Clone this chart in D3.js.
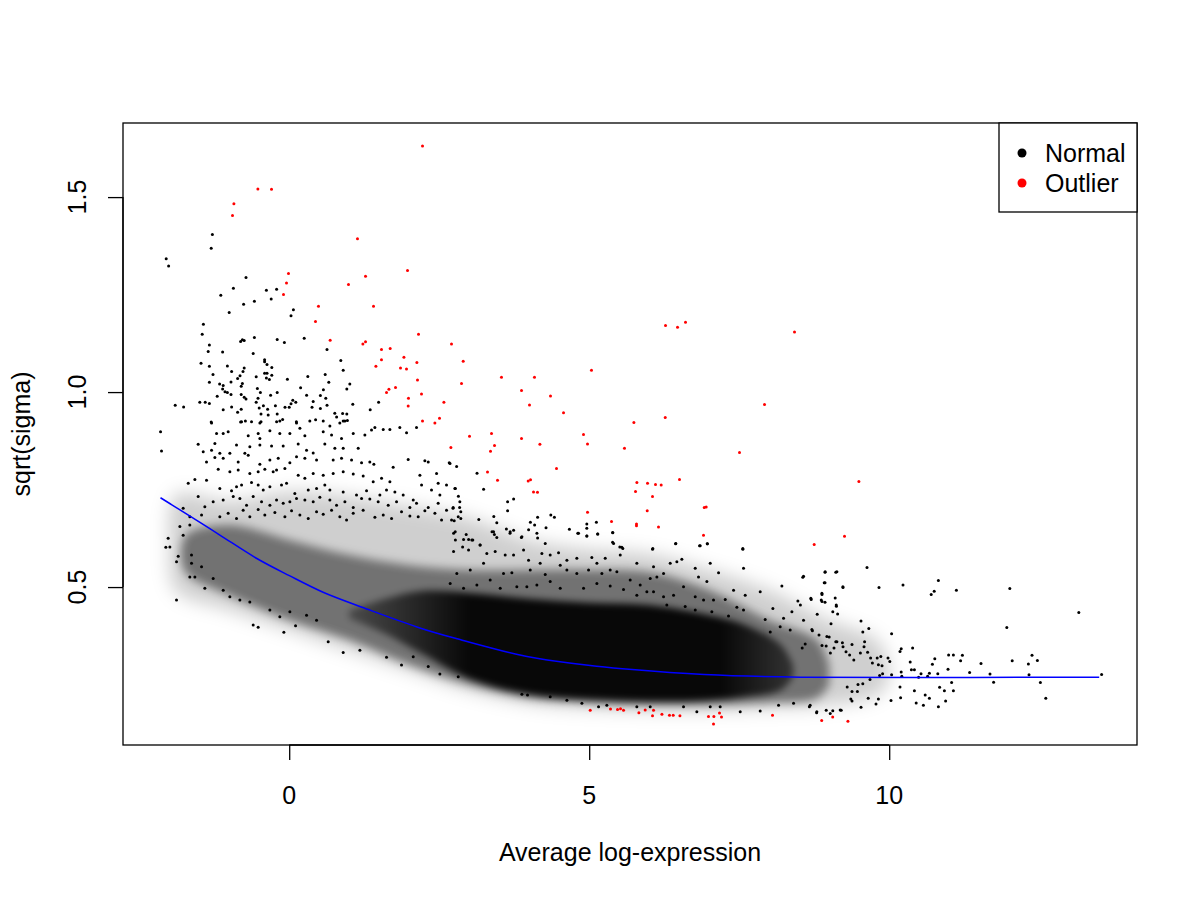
<!DOCTYPE html>
<html><head><meta charset="utf-8">
<script src="https://cdn.jsdelivr.net/npm/d3@7"></script>
<style>
body{margin:0;background:#fff}
svg{display:block}
text{font-family:"Liberation Sans",Arial,Helvetica,sans-serif;fill:#000}
</style>
</head><body>
<svg id="chart" width="1200" height="900"></svg>
<script>
// ---------- data ----------
const xTicks = [0, 5, 10];
const yTicks = [0.5, 1.0, 1.5];
const legendLabels = ["Normal", "Outlier"];
const legendColors = ["#000000", "#ff0000"];

const trendX = [-2.145,-1.1,-0.545,0,0.567,1.12,2.233,2.79,3.9,4.455,5.18,5.567,6.85,8.52,10.18,13.5];
const trendY = [0.729,0.629,0.571,0.53,0.484,0.454,0.390,0.368,0.321,0.309,0.296,0.290,0.274,0.268,0.268,0.269];

// density envelopes of the crowded cloud: light, medium, solid
const lightX    = [-2.0,-1.9,-1.0,0,1,2,3,4,5,6,7,8,9,9.8,10.0];
const lightHigh = [0.62,0.736,0.720,0.745,0.733,0.707,0.677,0.621,0.597,0.585,0.544,0.492,0.415,0.364,0.30];
const lightLow  = [0.58,0.492,0.441,0.390,0.338,0.287,0.236,0.203,0.190,0.185,0.185,0.190,0.197,0.223,0.26];
const midX      = [-1.8,-1.7,-1.0,0,1,2,3,4,5,6,7,8,8.8,9.0];
const midHigh   = [0.60,0.636,0.659,0.621,0.582,0.556,0.544,0.544,0.544,0.538,0.492,0.415,0.364,0.30];
const midLow    = [0.57,0.533,0.479,0.415,0.364,0.300,0.249,0.215,0.203,0.197,0.197,0.203,0.215,0.25];
const coreX     = [1.0,1.6,2.2,3,4,5,6,7,7.6,8.2,8.4];
const coreHigh  = [0.44,0.47,0.49,0.485,0.47,0.46,0.454,0.428,0.403,0.351,0.30];
const coreLow   = [0.42,0.38,0.33,0.265,0.225,0.212,0.207,0.21,0.218,0.236,0.27];
const coreShadeX = [1.0, 3.0, 7.2, 8.4];
const coreShade  = [0.35, 0.93, 0.93, 0.55];

const normalPoints = [
[-1.28,1.404],[-1.30,1.369],[-2.05,1.342],[-2.01,1.323],[-0.72,1.294],[-0.93,1.266],[-0.38,1.261],[-0.21,1.264],[-1.14,1.248],[-0.30,1.239],[-0.76,1.225],[-0.58,1.233],[0.07,1.211],[0.03,1.196],[-1.00,1.204],[-1.43,1.174],[-1.45,1.148],[-0.78,1.134],[-0.81,1.130],[-0.75,1.132],[-0.58,1.140],[-0.20,1.135],[-0.08,1.127],[0.25,1.138],[-1.33,1.121],[-1.35,1.104],[-1.11,1.103],[-0.60,1.099],[-0.41,1.083],[-0.41,1.078],[0.63,1.109],[0.86,1.081],[0.90,1.056],[-1.47,1.074],[-1.33,1.066],[-1.03,1.067],[-0.75,1.062],[-0.77,1.053],[-0.37,1.071],[-0.29,1.063],[-0.96,1.053],[-1.27,1.045],[-0.82,1.042],[-0.86,1.035],[-0.55,1.039],[-0.41,1.048],[-0.37,1.048],[-0.29,1.043],[-0.38,1.036],[-0.33,1.032],[-0.03,1.033],[0.31,1.040],[0.60,1.045],[-1.33,1.025],[-0.97,1.026],[-1.16,1.021],[-1.10,1.017],[-1.11,1.008],[-0.78,1.022],[-0.80,1.015],[0.66,1.025],[1.01,1.021],[0.96,1.008],[0.19,1.011],[0.57,1.006],[-0.53,1.009],[-1.07,1.001],[-1.03,0.999],[-0.97,0.994],[-1.20,0.989],[-0.80,0.994],[-0.75,0.987],[-0.72,0.982],[-0.48,0.999],[-0.31,0.992],[-0.20,0.999],[0.29,0.992],[0.52,0.991],[0.61,0.984],[-0.55,0.974],[-0.52,0.984],[0.06,0.979],[0.11,0.974],[0.03,0.970],[0.40,0.976],[1.06,0.969],[1.49,0.974],[-1.90,0.966],[-1.76,0.962],[-1.49,0.974],[-1.40,0.974],[-1.33,0.971],[-1.10,0.955],[-0.96,0.962],[-0.80,0.956],[-0.50,0.959],[-0.43,0.965],[-0.36,0.956],[-0.23,0.965],[-0.07,0.961],[0.00,0.961],[0.38,0.961],[0.52,0.958],[0.63,0.966],[1.35,0.955],[-0.86,0.948],[-0.47,0.944],[-0.35,0.941],[-0.20,0.944],[0.76,0.946],[0.79,0.936],[0.89,0.945],[0.96,0.944],[-0.11,0.930],[0.12,0.924],[0.44,0.929],[0.90,0.926],[0.97,0.927],[-1.30,0.923],[-0.81,0.923],[-0.73,0.926],[-0.47,0.924],[-0.21,0.924],
[-1.294,0.921],[-0.794,0.924],[-0.628,0.924],[-0.489,0.921],[-0.156,0.926],[0.122,0.921],[0.344,0.926],[0.567,0.926],[0.678,0.913],[0.844,0.921],[0.928,0.926],[1.428,0.909],[1.567,0.904],[1.678,0.904],[1.844,0.909],[1.956,0.896],[2.122,0.909],[-2.144,0.898],[-2.128,0.849],[-1.211,0.894],[-1.1,0.894],[-1.017,0.898],[-0.683,0.888],[-0.517,0.894],[-0.489,0.881],[-0.322,0.901],[-0.156,0.894],[0.011,0.894],[0.178,0.907],[0.261,0.888],[0.567,0.898],[0.706,0.890],[0.872,0.881],[1.067,0.894],[1.261,0.890],[1.372,0.903],
[-1.517,0.866],[-1.433,0.847],[-1.239,0.868],[-1.294,0.851],[-1.156,0.843],[-0.878,0.864],[-0.739,0.843],[-0.656,0.860],[-0.489,0.864],[-0.294,0.862],[-0.1,0.862],[0.15,0.867],[0.289,0.851],[0.4,0.844],[0.594,0.867],[0.761,0.856],[0.9,0.856],[1.15,0.856],
[-1.378,0.821],[-1.239,0.832],[-1.1,0.830],[-0.989,0.843],[-0.85,0.821],[-0.683,0.838],[-0.489,0.815],[-0.322,0.826],[-0.183,0.830],[0.011,0.819],[0.122,0.834],[0.261,0.830],[0.456,0.826],[0.733,0.826],[0.872,0.830],[1.039,0.826],[1.206,0.819],[1.344,0.821],[1.411,0.815],[1.733,0.807],[1.983,0.827],[2.261,0.824],[2.317,0.821],[2.667,0.819],
[-1.683,0.766],[-1.572,0.776],[-1.183,0.802],[-0.989,0.796],[-0.85,0.8],[-0.656,0.791],[-0.517,0.796],[-0.406,0.802],[-0.267,0.796],[-0.211,0.8],[-0.072,0.804],[0.15,0.787],[0.261,0.779],[0.4,0.791],[0.567,0.787],[0.733,0.791],[0.9,0.796],[1.067,0.790],[1.233,0.785],[1.4,0.770],[1.539,0.779],[1.678,0.770],[2.178,0.787],[2.456,0.791],[2.483,0.766],[2.622,0.762],[2.761,0.753],
[-1.378,0.774],[-1.156,0.753],[-0.961,0.747],[-0.878,0.757],[-0.794,0.762],[-0.628,0.768],[-0.517,0.762],[-0.433,0.749],[-0.322,0.757],[-0.128,0.762],[-0.044,0.766],[0.094,0.740],[0.317,0.749],[0.456,0.753],[0.594,0.762],[0.678,0.749],[0.9,0.744],[1.122,0.736],[1.289,0.747],[1.511,0.736],[1.622,0.749],[1.761,0.744],[1.9,0.736],[2.067,0.723],[2.206,0.762],[2.372,0.749],[2.511,0.736],
[-1.517,0.732],[-1.406,0.706],[-1.267,0.719],[-1.1,0.723],[-0.933,0.732],[-0.822,0.727],[-0.711,0.710],[-0.6,0.732],[-0.461,0.719],[-0.322,0.710],[-0.211,0.723],[-0.1,0.715],[0.011,0.719],[0.122,0.727],[0.261,0.723],[0.4,0.719],[0.511,0.730],[0.678,0.723],[0.789,0.710],[0.928,0.719],[1.067,0.704],[1.206,0.727],[1.344,0.726],[1.483,0.719],[1.65,0.710],[1.789,0.719],[2.011,0.704],[2.122,0.715],[2.317,0.704],[2.483,0.715],[2.622,0.697],[2.733,0.704],[2.844,0.719],
[-1.767,0.702],[-1.656,0.680],[-1.461,0.685],[-1.156,0.680],[-1.017,0.689],[-0.878,0.676],[-0.767,0.697],[-0.656,0.680],[-0.517,0.699],[-0.406,0.685],[-0.239,0.691],[-0.072,0.680],[0.039,0.696],[0.178,0.685],[0.317,0.676],[0.456,0.693],[0.567,0.687],[0.706,0.697],[0.844,0.680],[0.956,0.672],[1.067,0.689],[1.233,0.697],[1.428,0.679],[1.567,0.685],[1.706,0.676],[1.872,0.693],[2.011,0.682],[2.15,0.680],[2.261,0.696],[2.428,0.689],[2.539,0.672],[2.706,0.672],[2.817,0.680],
[-1.878,0.467],[-1.656,0.526],[-1.572,0.526],[-1.406,0.497],[-0.6,0.403],[-0.517,0.397],[-0.089,0.384],[0.106,0.401],[0.289,0.428],[0.456,0.415],[0.65,0.360],[0.9,0.332],[1.178,0.338],[1.622,0.320],[1.872,0.300],[2.067,0.321],[2.317,0.296],[2.511,0.277],[2.817,0.270],[-0.322,0.441],[-0.156,0.424],[0.011,0.437],[-0.989,0.475],[-0.822,0.467],[-0.656,0.462],[-1.878,0.565],[-2.017,0.625],[-2.056,0.602],[-1.85,0.579],[-1.628,0.582],[-1.461,0.552],[-1.267,0.522],[-1.1,0.492],[-1.822,0.655],[-1.656,0.659],[-1.767,0.633],[-1.989,0.603],[-1.628,0.561],
[2.68,0.817],[2.79,0.809],[3.13,0.792],[3.24,0.751],[2.77,0.753],[2.82,0.733],[2.73,0.702],[2.84,0.704],[2.86,0.693],[2.86,0.676],[2.75,0.670],[3.64,0.719],[3.74,0.726],[3.64,0.696],[3.41,0.681],[3.46,0.665],[3.16,0.673],[4.14,0.679],[4.36,0.685],[4.42,0.679],[4.02,0.666],[4.09,0.659],[4.28,0.652],[3.62,0.649],[3.74,0.646],[3.68,0.638],[3.87,0.627],[3.99,0.647],[3.38,0.642],[3.42,0.635],[3.46,0.627],[2.74,0.638],[2.95,0.635],[2.99,0.622],[3.06,0.621],[2.77,0.621],[3.18,0.608],[2.89,0.603],[4.14,0.626],[4.67,0.648],[4.81,0.638],[4.96,0.662],[4.96,0.651],[4.96,0.631],[5.12,0.666],[5.14,0.636],[5.39,0.640],[5.39,0.615],[5.51,0.603],[5.56,0.599],[6.06,0.599],[6.44,0.611],[6.85,0.606],[6.97,0.611],[7.56,0.599],
[2.767,0.642],[2.906,0.622],[3.044,0.621],[3.406,0.642],[3.683,0.642],[3.878,0.629],[4.128,0.638],[4.267,0.612],[4.822,0.638],[4.961,0.631],[5.144,0.636],[5.394,0.639],[5.406,0.612],[5.544,0.602],[6.056,0.597],[6.444,0.612],[6.839,0.606],[6.967,0.611],[7.561,0.597],
[2.739,0.591],[2.989,0.595],[3.183,0.608],[3.294,0.586],[3.433,0.591],[3.6,0.582],[3.739,0.582],[3.906,0.595],[3.989,0.569],[4.211,0.586],[4.35,0.582],[4.489,0.588],[4.628,0.569],[4.794,0.574],[5.044,0.576],[5.128,0.561],[5.267,0.574],[5.517,0.582],[5.794,0.561],[6.072,0.552],[6.239,0.535],[6.35,0.561],[6.461,0.565],[6.544,0.571],[6.767,0.548],[7.017,0.561],[7.156,0.537],[7.572,0.548],[8.933,0.539],[9.128,0.539],[8.572,0.528],
[2.794,0.535],[3.017,0.544],[3.239,0.561],[3.572,0.535],[3.711,0.537],[4.017,0.544],[4.183,0.561],[4.267,0.532],[4.517,0.556],[4.628,0.544],[4.794,0.535],[4.989,0.544],[5.211,0.535],[5.35,0.544],[5.461,0.539],[5.683,0.518],[5.85,0.505],[6.017,0.522],[6.128,0.526],[6.822,0.526],[6.961,0.514],[8.211,0.503],[8.917,0.511],[9.228,0.501],[8.878,0.484],
[2.683,0.509],[2.906,0.497],[3.128,0.505],[3.35,0.518],[3.517,0.497],[3.794,0.501],[3.961,0.501],[4.128,0.505],[4.35,0.514],[4.517,0.497],[4.906,0.497],[5.128,0.509],[5.35,0.503],[5.572,0.494],[5.794,0.479],[5.961,0.488],[6.072,0.488],[6.239,0.475],[6.406,0.479],[6.572,0.501],[6.767,0.475],[6.906,0.467],[7.072,0.467],[7.267,0.468],[7.406,0.492],[7.6,0.479],[7.85,0.488],[8.478,0.464],[8.694,0.471],[8.867,0.467],[9.117,0.454],
[6.294,0.454],[6.6,0.450],[6.767,0.441],[7.044,0.437],[7.322,0.426],[7.461,0.448],[7.572,0.441],[7.933,0.417],[8.061,0.445],[8.239,0.420],[8.378,0.437],[8.572,0.415],[8.711,0.391],[8.961,0.373],[9.128,0.360],[8.183,0.398],[8.35,0.390],[8.017,0.385],
[3.878,0.225],[3.972,0.223],[4.35,0.219],[4.628,0.210],[4.878,0.202],[5.156,0.193],[5.294,0.197],[5.794,0.193],[6.017,0.193],[6.572,0.193],[6.794,0.180],[7.017,0.193],[7.183,0.193],[7.517,0.180],[7.85,0.182],[8.156,0.197],[8.406,0.202],[8.683,0.197],[8.794,0.180],[9.017,0.176],[9.183,0.185],
[8.56,0.525],[8.93,0.538],[9.11,0.538],[8.93,0.511],[9.23,0.499],[9.63,0.550],[9.83,0.499],[10.23,0.505],[10.82,0.517],[10.75,0.489],[10.70,0.481],[11.12,0.492],[12.01,0.496],[13.16,0.435],[11.96,0.396],[8.88,0.481],[8.70,0.468],[9.10,0.472],[8.88,0.463],[8.93,0.461],[9.12,0.451],[8.80,0.430],[9.06,0.437],[9.14,0.431],[8.52,0.454],[9.03,0.406],[9.53,0.413],[9.66,0.394],[9.56,0.385],[10.04,0.380],[8.72,0.388],[8.83,0.377],[9.00,0.372],[9.11,0.360],[9.22,0.357],[9.23,0.347],[9.38,0.353],[9.59,0.360],[9.58,0.347],[10.20,0.342],[10.39,0.344],[8.60,0.354],[8.55,0.344],[8.88,0.350],[8.95,0.349],[9.02,0.331],[9.08,0.344],[9.28,0.334],[9.34,0.326],[9.41,0.313],[9.52,0.331],[9.64,0.333],[9.69,0.318],[9.72,0.305],[9.80,0.318],[9.86,0.322],[9.98,0.318],[10.01,0.309],[9.82,0.301],[9.88,0.298],[10.18,0.335],[10.35,0.308],[10.99,0.326],[11.07,0.326],[11.22,0.325],[10.76,0.316],[10.72,0.302],[11.19,0.311],[11.53,0.304],[12.05,0.311],[12.38,0.325],[12.47,0.312],[12.32,0.303],
[10.98,0.289],[10.81,0.278],[10.67,0.279],[10.64,0.271],[10.49,0.269],[10.53,0.278],[10.37,0.288],[10.42,0.288],[10.20,0.282],[10.21,0.271],[10.04,0.275],[9.89,0.278],[9.84,0.273],[9.68,0.263],[9.56,0.252],[9.48,0.250],[11.34,0.281],[11.68,0.277],[12.33,0.275],[11.74,0.256],[12.52,0.255],[13.54,0.276],[11.04,0.255],[11.07,0.234],[10.92,0.234],[10.84,0.243],[10.42,0.234],[10.18,0.244],[10.19,0.216],[10.67,0.215],[10.60,0.223],[10.57,0.197],[10.45,0.203],[10.82,0.193],[10.94,0.208],[10.03,0.209],[9.82,0.213],[9.65,0.215],[9.53,0.192],[9.38,0.208],[9.36,0.213],[9.78,0.2],[12.61,0.215],[9.47,0.232],[9.38,0.232],[9.30,0.244],[9.20,0.184],[9.06,0.183],[8.95,0.184],[8.79,0.178],[8.67,0.193]
];

const outlierPoints = [
[2.222,1.631],[-0.522,1.521],[-0.295,1.520],[-0.922,1.483],[-0.945,1.453],[1.138,1.393],[-0.012,1.304],[-0.045,1.280],[-0.095,1.250],[1.972,1.312],[1.272,1.297],[0.988,1.276],[0.488,1.220],[1.405,1.220],[0.438,1.181],[2.155,1.148],[2.705,1.123],[0.683,1.133],[1.272,1.129],[1.228,1.123],[1.538,1.109],[1.683,1.112],[1.538,1.083],[1.912,1.089],[2.128,1.076],[2.9,1.079],[1.445,1.066],[1.855,1.062],[1.955,1.059],[2.138,1.031],[2.872,1.022],[1.662,1.007],[1.772,1.012],[1.622,0.999],[2.205,0.995],[1.988,0.984],[2.578,0.974],[1.983,0.964],[2.222,0.926],[2.505,0.933],[2.428,0.921],
[3.538,1.038],[4.088,1.038],[3.872,1.004],[5.038,1.056],[4.355,0.990],[4.005,0.967],[4.572,0.947],[6.272,1.171],[6.472,1.166],[6.605,1.179],[8.422,1.154],[7.922,0.968],[5.745,0.922],[6.267,0.935],[3.005,0.887],[3.372,0.894],[3.872,0.881],[3.422,0.863],[3.355,0.848],[4.178,0.866],[4.905,0.891],[4.972,0.867],[5.588,0.856],[2.695,0.858],[7.505,0.845],[4.455,0.804],[3.305,0.795],[3.472,0.774],[3.983,0.772],[4.022,0.775],[4.072,0.744],[4.138,0.743],[5.795,0.768],[5.972,0.766],[6.105,0.763],[6.2,0.762],[6.505,0.776],[5.772,0.745],[6.055,0.732],[4.972,0.692],[5.967,0.696],[6.917,0.704],[6.95,0.705],[5.372,0.668],[5.788,0.662],[5.788,0.657],[6.155,0.654],[6.905,0.633],[8.75,0.609],[9.255,0.630],[9.495,0.771],
[5.017,0.184],[5.355,0.187],[5.472,0.186],[5.522,0.188],[5.572,0.184],[5.828,0.178],[5.933,0.185],[6.072,0.184],[6.055,0.170],[6.212,0.174],[6.338,0.171],[6.4,0.171],[6.512,0.170],[6.988,0.168],[7.078,0.168],[7.072,0.149],[7.172,0.177],[7.205,0.167],[8.055,0.171],[8.875,0.158],[9.058,0.167],[9.312,0.156]
];

// ---------- layout ----------
const svg = d3.select("#chart");
const W = 1200, H = 900;
const plot = {left:123, right:1137, top:123, bottom:745};
svg.append("rect").attr("width",W).attr("height",H).attr("fill","#fff");

const x = d3.scaleLinear().domain([-2.77, 14.13]).range([plot.left, plot.right]);
const y = d3.scaleLinear().domain([0.095, 1.69]).range([plot.bottom, plot.top]);

const defs = svg.append("defs");
defs.append("clipPath").attr("id","clip").append("rect")
  .attr("x",plot.left).attr("y",plot.top)
  .attr("width",plot.right-plot.left).attr("height",plot.bottom-plot.top);
function blur(id, sd){
  defs.append("filter").attr("id",id).attr("x","-20%").attr("y","-50%").attr("width","140%").attr("height","200%")
    .append("feGaussianBlur").attr("stdDeviation",sd);
}
blur("soft8",9); blur("soft5",5); blur("soft3",3.5);
const gx0 = x(coreShadeX[0]), gx1 = x(coreShadeX[coreShadeX.length-1]);
const grad = defs.append("linearGradient").attr("id","coreGrad")
  .attr("gradientUnits","userSpaceOnUse")
  .attr("x1",gx0).attr("x2",gx1).attr("y1",0).attr("y2",0);
coreShadeX.forEach((v,i)=>{
  grad.append("stop").attr("offset",(x(v)-gx0)/(gx1-gx0))
    .attr("stop-color","#000").attr("stop-opacity",coreShade[i]);
});

const g = svg.append("g").attr("clip-path","url(#clip)");

// density envelopes
const toRows = (xs,lo,hi)=>xs.map((v,i)=>({x:v,lo:lo[i],hi:hi[i]}));
const area = d3.area().x(d=>x(d.x)).y0(d=>y(d.lo)).y1(d=>y(d.hi)).curve(d3.curveCatmullRom);
g.append("path").datum(toRows(lightX,lightLow,lightHigh)).attr("d",area)
  .attr("fill","#000").attr("fill-opacity",0.19).attr("filter","url(#soft8)");
g.append("path").datum(toRows(midX,midLow,midHigh)).attr("d",area)
  .attr("fill","#000").attr("fill-opacity",0.45).attr("filter","url(#soft5)");
g.append("path").datum(toRows(coreX,coreLow,coreHigh)).attr("d",area)
  .attr("fill","url(#coreGrad)").attr("filter","url(#soft3)");

// points
g.append("g").selectAll("circle").data(normalPoints).join("circle")
  .attr("cx",d=>x(d[0])).attr("cy",d=>y(d[1])).attr("r",1.5).attr("fill","#000");
g.append("g").selectAll("circle").data(outlierPoints).join("circle")
  .attr("cx",d=>x(d[0])).attr("cy",d=>y(d[1])).attr("r",1.5).attr("fill","#ff0000");

// trend line
const trend = trendX.map((v,i)=>[v,trendY[i]]);
g.append("path").datum(trend)
  .attr("d", d3.line().x(d=>x(d[0])).y(d=>y(d[1])).curve(d3.curveBasis))
  .attr("fill","none").attr("stroke","#0000ff").attr("stroke-width",1.5);

// box
svg.append("rect").attr("x",plot.left).attr("y",plot.top)
  .attr("width",plot.right-plot.left).attr("height",plot.bottom-plot.top)
  .attr("fill","none").attr("stroke","#000").attr("stroke-width",1.3);

// x axis
const xAxis = svg.append("g").attr("transform",`translate(0,${plot.bottom})`)
  .call(d3.axisBottom(x).tickValues(xTicks).tickSize(15).tickFormat(""));
xAxis.select(".domain").remove();
xAxis.selectAll("line").attr("stroke","#000").attr("stroke-width",1.3);
xAxis.append("line").attr("x1",x(xTicks[0])).attr("x2",x(xTicks[xTicks.length-1]))
  .attr("stroke","#000").attr("stroke-width",1.3);
svg.append("g").selectAll("text").data(xTicks).join("text")
  .attr("x",d=>x(d)).attr("y",804).attr("text-anchor","middle")
  .attr("font-size",25).text(d=>d3.format("d")(d));

// y axis
const yAxis = svg.append("g").attr("transform",`translate(${plot.left},0)`)
  .call(d3.axisLeft(y).tickValues(yTicks).tickSize(15).tickFormat(""));
yAxis.select(".domain").remove();
yAxis.selectAll("line").attr("stroke","#000").attr("stroke-width",1.3);
yAxis.append("line").attr("y1",y(yTicks[0])).attr("y2",y(yTicks[yTicks.length-1]))
  .attr("stroke","#000").attr("stroke-width",1.3);
svg.append("g").selectAll("text").data(yTicks).join("text")
  .attr("transform",d=>`translate(86,${y(d)}) rotate(-90)`)
  .attr("text-anchor","middle").attr("font-size",25).text(d=>d3.format(".1f")(d));

// axis titles
svg.append("text").attr("x",(plot.left+plot.right)/2).attr("y",861)
  .attr("text-anchor","middle").attr("font-size",25).text("Average log-expression");
svg.append("text").attr("transform",`translate(30,${(plot.top+plot.bottom)/2}) rotate(-90)`)
  .attr("text-anchor","middle").attr("font-size",25).text("sqrt(sigma)");

// legend
const lg = svg.append("g");
lg.append("rect").attr("x",999).attr("y",plot.top).attr("width",plot.right-999).attr("height",89)
  .attr("fill","#fff").attr("stroke","#000").attr("stroke-width",1.3);
legendLabels.forEach((lab,i)=>{
  lg.append("circle").attr("cx",1022).attr("cy",153+i*30).attr("r",4.5).attr("fill",legendColors[i]);
  lg.append("text").attr("x",1045).attr("y",162+i*30).attr("font-size",25).text(lab);
});
</script>
</body></html>
